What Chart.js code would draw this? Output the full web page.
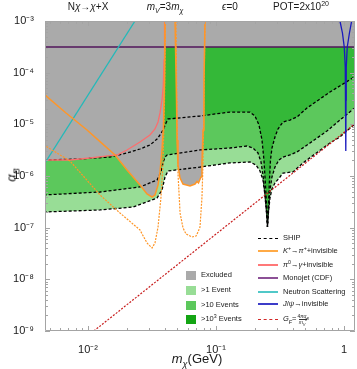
<!DOCTYPE html>
<html>
<head>
<meta charset="utf-8">
<script src="https://cdn.jsdelivr.net/npm/chart.js@4.4.1/dist/chart.umd.min.js"></script>
<style>
  html, body { margin:0; padding:0; background:#fff; }
  #wrap { position:relative; width:357px; height:369px; overflow:hidden; font-family:"Liberation Sans", Arial, sans-serif; color:#1a1a1a; }
  #c { position:absolute; left:0; top:0; }
  .t { position:absolute; white-space:nowrap; line-height:1; }
  .top { font-size:10px; top:2px; transform:translateX(-50%); }
  .leg { position:absolute; height:10px; display:flex; align-items:center; font-size:7.5px; white-space:nowrap; line-height:1; }
  .sw { width:10px; height:9px; margin-right:5px; flex:none; }
  .ln { width:20px; height:0; margin-right:5px; flex:none; }
  sub, sup { font-size:70%; line-height:0; }
  .frac { display:inline-flex; flex-direction:column; align-items:center; font-size:5px; vertical-align:middle; margin-left:1px; }
  .frac span + span { border-top:0.6px solid #333; }
</style>
</head>
<body>
<div id="wrap">
  <canvas id="c" width="357" height="369"></canvas>

  <div class="t top" style="left:88px">N<i>χ</i>→<i>χ</i>+X</div>
  <div class="t top" style="left:165px"><i>m<sub>V</sub></i>=3<i>m<sub>χ</sub></i></div>
  <div class="t top" style="left:230px"><i>ϵ</i>=0</div>
  <div class="t top" style="left:301px">POT=2x10<sup>20</sup></div>

  <div class="t" style="left:197px;top:352px;transform:translateX(-50%);font-size:13px"><i>m</i><sub><i>χ</i></sub>(GeV)</div>
  <div class="t" style="left:11px;top:175px;transform:translate(-50%,-50%) rotate(-90deg);font-size:13px"><i>α</i><sub><i>B</i></sub></div>

  <div class="leg" style="left:186px;top:270px"><span class="sw" style="background:rgb(170,170,170)"></span><span>Excluded</span></div>
  <div class="leg" style="left:186px;top:285px"><span class="sw" style="background:rgb(152,221,150)"></span><span>&gt;1 Event</span></div>
  <div class="leg" style="left:186px;top:300px"><span class="sw" style="background:rgb(92,200,92)"></span><span>&gt;10 Events</span></div>
  <div class="leg" style="left:186px;top:314px"><span class="sw" style="background:rgb(20,165,20)"></span><span>&gt;10<sup>3</sup> Events</span></div>

  <div class="leg" style="left:258px;top:233px"><span class="ln" style="border-top:1.5px dashed #000"></span><span>SHIP</span></div>
  <div class="leg" style="left:258px;top:246px"><span class="ln" style="border-top:2px solid rgb(255,170,70)"></span><span><i>K</i><sup>+</sup>→<i>π</i><sup>+</sup>+invisible</span></div>
  <div class="leg" style="left:258px;top:260px"><span class="ln" style="border-top:2px solid rgb(255,120,120)"></span><span><i>π</i><sup>0</sup>→<i>γ</i>+invisible</span></div>
  <div class="leg" style="left:258px;top:273px"><span class="ln" style="border-top:2px solid rgb(140,80,150)"></span><span>Monojet (CDF)</span></div>
  <div class="leg" style="left:258px;top:287px"><span class="ln" style="border-top:2px solid rgb(80,200,200)"></span><span>Neutron Scattering</span></div>
  <div class="leg" style="left:258px;top:299px"><span class="ln" style="border-top:2px solid rgb(60,60,200)"></span><span><i>J</i>/<i>ψ</i>→invisible</span></div>
  <div class="leg" style="left:258px;top:314px"><span class="ln" style="border-top:1.5px dashed rgb(210,40,40)"></span><span><i>G<sub>F</sub></i>=<span class="frac"><span>4<i>πα<sub>B</sub></i></span><span><i>m<sub>V</sub></i><sup>2</sup></span></span></span></div>
</div>

<script>
// ---------- axes ----------
const xMin = 0.00461, xMax = 1.22;
const yMin = 1e-9, yMax = 1e-3;
const xMajorTicks = [0.01, 0.1, 1];
const xTickLabels = ['10⁻²', '10⁻¹', '1'];
const yMajorTicks = [1e-9, 1e-8, 1e-7, 1e-6, 1e-5, 1e-4, 1e-3];
const yTickLabels = ['10⁻⁹', '10⁻⁸', '10⁻⁷', '10⁻⁶', '10⁻⁵', '10⁻⁴', '10⁻³'];

// ---------- SHIP sensitivity curves ----------
const shipLowMass  = [0.0045,0.01241,0.02247,0.0346,0.03786,0.03996,0.04217,0.075,0.1286,0.1844,0.2054,0.2207,0.2329,0.2414,0.248,0.2525,0.2571,0.2642,0.2738,0.289,0.3162,0.3338,0.3996,0.4783,0.5934,0.7775,0.9305,1.241];
const shipLowAlpha = [2.01e-7,2.20e-7,2.51e-7,3.75e-7,5.36e-7,9.57e-7,1.25e-6,1.49e-6,1.79e-6,1.87e-6,1.63e-6,1.25e-6,8.37e-7,4.29e-7,2.01e-7,1.03e-7,2.01e-7,3.75e-7,5.61e-7,7.32e-7,9.57e-7,1.14e-6,1.20e-6,1.79e-6,2.67e-6,4.35e-6,5.69e-6,1.06e-5];

const shipMidMass  = [0.0045,0.01241,0.02548,0.0346,0.03718,0.03855,0.03996,0.04142,0.075,0.1286,0.1747,0.1945,0.2129,0.2247,0.2329,0.2414,0.248,0.2525,0.2571,0.2642,0.2738,0.289,0.3105,0.3338,0.3786,0.4294,0.5428,0.7365,0.9305,1.241];
const shipMidAlpha = [4.29e-7,4.90e-7,6.13e-7,8.37e-7,1.20e-6,1.79e-6,2.33e-6,2.55e-6,3.19e-6,3.48e-6,3.81e-6,3.48e-6,2.79e-6,1.87e-6,1.05e-6,4.29e-7,2.01e-7,1.03e-7,2.01e-7,5.36e-7,9.57e-7,1.49e-6,2.04e-6,2.33e-6,2.55e-6,2.92e-6,4.35e-6,7.43e-6,1.21e-5,2.17e-5];

const shipTopMass  = [0.0045,0.00866,0.01485,0.02017,0.02548,0.0305,0.0346,0.03652,0.03855,0.04069,0.04217,0.075,0.1286,0.1844,0.2017,0.2168,0.2288,0.2371,0.2436,0.2494,0.2525,0.2562,0.2608,0.2665,0.2738,0.289,0.305,0.3338,0.3786,0.4294,0.514,0.7775,1.241];
const shipTopAlpha = [2.04e-6,2.13e-6,2.33e-6,2.79e-6,3.33e-6,3.98e-6,5.20e-6,6.22e-6,7.77e-6,1.06e-5,1.27e-5,1.45e-5,1.73e-5,1.73e-5,1.45e-5,9.71e-6,4.98e-6,2.04e-6,6.70e-7,2.20e-7,1.03e-7,2.20e-7,6.70e-7,2.04e-6,3.48e-6,5.69e-6,8.12e-6,1.11e-5,1.21e-5,1.39e-5,2.07e-5,4.22e-5,8.62e-5];

// ---------- existing constraints ----------
const pionMass  = [0.0045,0.00723,0.01037,0.01486,0.01685,0.02017,0.02547,0.03047,0.03336,0.03524,0.03652,0.03784,0.03877,0.03926,0.03962];
const pionAlpha = [2.04e-6,2.04e-6,2.23e-6,2.49e-6,2.55e-6,3.19e-6,4.55e-6,6.22e-6,8.13e-6,1.11e-5,1.66e-5,2.96e-5,5.77e-5,1.76e-4,1e-3];

const kaonLowMass  = [0.0045,0.00673,0.00982,0.01241,0.01626,0.02017,0.02547,0.0289,0.03162,0.03336,0.03524,0.03652,0.03784,0.03889,0.0396,0.03996];
const kaonLowAlpha = [3.9e-5,1.66e-5,7.77e-6,4.63e-6,2.55e-6,1.31e-6,6.70e-7,4.48e-7,3.92e-7,4.29e-7,6.70e-7,1.20e-6,3.19e-6,9.7e-6,7.21e-5,1e-3];

const kaonHighMass  = [0.04786,0.04914,0.04961,0.05046,0.05238,0.05524,0.06265,0.06856,0.07108,0.07297,0.07637,0.07773,0.07916,0.08059,0.08204];
const kaonHighAlpha = [1e-3,2.96e-5,4.98e-6,1.63e-6,9.14e-7,7.0e-7,6.41e-7,7.0e-7,7.83e-7,7.33e-7,9.57e-7,1.79e-6,7.77e-6,7.21e-5,1e-3];

const kaonProjLowMass  = [0.0045,0.00723,0.01241,0.01778,0.02547,0.0289,0.03162,0.03336,0.03524,0.03718,0.03855,0.0396,0.04032];
const kaonProjLowAlpha = [4.0e-6,1.95e-6,4.29e-7,1.92e-7,9.02e-8,5.05e-8,4.05e-8,5.05e-8,1.03e-7,3.92e-7,1.79e-6,2.96e-5,1e-3];

const kaonProjHighMass  = [0.0487,0.04961,0.05046,0.05238,0.05524,0.0583,0.06494,0.06982,0.07235,0.07499,0.07773,0.07916,0.08059,0.08204];
const kaonProjHighAlpha = [1e-3,1.21e-5,1.14e-6,1.92e-7,9.87e-8,7.55e-8,6.6e-8,6.9e-8,8.25e-8,1.03e-7,3.92e-7,1.79e-6,2.96e-5,1e-3];

const excludedMass  = [0.0045,0.00723,0.01037,0.01486,0.01626,0.02017,0.02547,0.0289,0.03162,0.03336,0.03524,0.03652,0.03784,0.03889,0.0396,0.03996];
const excludedAlpha = [2.04e-6,2.04e-6,2.23e-6,2.49e-6,2.55e-6,1.31e-6,6.70e-7,4.48e-7,3.92e-7,4.29e-7,6.70e-7,1.20e-6,3.19e-6,9.7e-6,7.21e-5,1e-3];

const monojetMass  = [0.0045, 1.25];
const monojetAlpha = [3.14e-4, 3.14e-4];

const neutronMass  = [0.00461, 0.02329];
const neutronAlpha = [1.79e-6, 1e-3];

const jpsiMass  = [0.9306,0.9734,1.0054,1.0238,1.033,1.0347,1.0385,1.0423,1.0612,1.104,1.1487];
const jpsiAlpha = [1e-3,5.86e-4,3.14e-4,1.29e-4,2.96e-5,3.05e-6,2.96e-5,1.29e-4,3.14e-4,5.86e-4,1e-3];

const gfMass  = [0.0111, 1.241];
const gfAlpha = [1e-9, 1.06e-5];

// ---------- colours ----------
const GRAY = 'rgb(170,170,170)';
const LIGHT = 'rgb(152,221,150)';
const MID = 'rgb(92,200,92)';
const DARK = 'rgb(52,184,56)';
const ORANGE = 'rgb(255,150,40)';
const PINK = 'rgb(252,110,110)';
const PURPLE = 'rgb(80,20,90)';
const TEAL = 'rgb(35,185,185)';
const BLUE = 'rgb(25,25,190)';
const RED = 'rgb(200,30,30)';

const pts = (xs, ys) => xs.map((x, i) => ({x, y: ys[i]}));
const ds = (label, xs, ys, o) => Object.assign({
  label, data: pts(xs, ys), pointRadius: 0, pointHoverRadius: 0,
  borderWidth: 1.2, tension: 0, fill: false, spanGaps: false
}, o);

function logTicks(min, max) {
  const out = [];
  for (let e = Math.floor(Math.log10(min)); e <= Math.ceil(Math.log10(max)); e++) {
    for (let k = 1; k <= 9; k++) {
      const v = k === 1 ? Number('1e' + e) : k * Math.pow(10, e);
      if (v >= min * 0.9999 && v <= max * 1.0001) out.push({value: v, major: k === 1});
    }
  }
  return out;
}

const framePlugin = {
  id: 'frame',
  afterDatasetsDraw(chart) {
    const {ctx, chartArea: a} = chart;
    const xs = chart.scales.x, ys = chart.scales.y;
    ctx.save();
    ctx.strokeStyle = '#a4a4a4';
    ctx.lineWidth = 1;
    ctx.beginPath();
    ctx.rect(a.left + 0.5, a.top + 0.5, a.width - 1, a.height - 1);
    ctx.stroke();
    ctx.beginPath();
    xs.ticks.forEach(t => {
      const p = Math.round(xs.getPixelForValue(t.value)) + 0.5;
      const L = t.major ? 5 : 3;
      ctx.moveTo(p, a.bottom); ctx.lineTo(p, a.bottom - L);
      ctx.moveTo(p, a.top); ctx.lineTo(p, a.top + L);
    });
    ys.ticks.forEach(t => {
      const p = Math.round(ys.getPixelForValue(t.value)) + 0.5;
      const L = t.major ? 5 : 3;
      ctx.moveTo(a.left, p); ctx.lineTo(a.left + L, p);
      ctx.moveTo(a.right, p); ctx.lineTo(a.right - L, p);
    });
    ctx.stroke();
    ctx.restore();
  }
};

Chart.defaults.font.family = '"Liberation Sans", Arial, sans-serif';
Chart.defaults.color = '#1a1a1a';

const shipLine = {borderColor: '#000', borderDash: [3, 2], borderWidth: 1.3};

new Chart(document.getElementById('c'), {
  type: 'line',
  data: {
    datasets: [
      ds('SHIP >1 Event', shipLowMass, shipLowAlpha, Object.assign({fill: 'end', backgroundColor: LIGHT, order: 50}, shipLine)),
      ds('SHIP >10 Events', shipMidMass, shipMidAlpha, Object.assign({fill: 'end', backgroundColor: MID, order: 49}, shipLine)),
      ds('SHIP >10^3 Events', shipTopMass, shipTopAlpha, Object.assign({fill: 'end', backgroundColor: DARK, order: 48}, shipLine)),
      ds('Excluded', excludedMass, excludedAlpha, {borderColor: 'transparent', borderWidth: 0, fill: 'end', backgroundColor: GRAY, order: 41}),
      ds('Excluded (K+ window)', kaonHighMass, kaonHighAlpha, {borderColor: 'transparent', borderWidth: 0, fill: 'end', backgroundColor: GRAY, order: 41}),
      ds('Monojet (CDF)', monojetMass, monojetAlpha, {borderColor: PURPLE, borderWidth: 1.3, fill: 'end', backgroundColor: GRAY, order: 35}),
      ds('π0→γ+invisible', pionMass, pionAlpha, {borderColor: PINK, borderWidth: 1.3, order: 30}),
      ds('Neutron Scattering', neutronMass, neutronAlpha, {borderColor: TEAL, borderWidth: 1.3, order: 28}),
      ds('K+ projection low', kaonProjLowMass, kaonProjLowAlpha, {borderColor: ORANGE, borderDash: [2, 1.2], borderWidth: 1.2, order: 22}),
      ds('K+ projection high', kaonProjHighMass, kaonProjHighAlpha, {borderColor: ORANGE, borderDash: [2, 1.2], borderWidth: 1.2, order: 22}),
      ds('K+→π+ +invisible', kaonLowMass, kaonLowAlpha, {borderColor: ORANGE, borderWidth: 1.5, order: 20}),
      ds('K+→π+ +invisible (2)', kaonHighMass, kaonHighAlpha, {borderColor: ORANGE, borderWidth: 1.5, order: 20}),
      ds('G_F', gfMass, gfAlpha, {borderColor: RED, borderDash: [2, 1.5], borderWidth: 1.2, order: 15}),
      ds('J/ψ→invisible', jpsiMass, jpsiAlpha, {borderColor: BLUE, borderWidth: 1.3, order: 10})
    ]
  },
  options: {
    responsive: false,
    animation: false,
    devicePixelRatio: 1,
    events: [],
    layout: {padding: {left: 0, right: 2, top: 21, bottom: 0}},
    plugins: {
      legend: {display: false},
      tooltip: {enabled: false},
      filler: {drawTime: 'beforeDatasetsDraw', propagate: false}
    },
    scales: {
      x: {
        type: 'logarithmic', min: xMin, max: xMax,
        grid: {display: false}, border: {display: false},
        afterBuildTicks: s => { s.ticks = logTicks(xMin, xMax); },
        afterFit: s => { s.height = 38; },
        ticks: {
          autoSkip: false, maxRotation: 0, minRotation: 0, padding: 4,
          font: {size: 11}, color: '#1a1a1a',
          callback: v => { const i = xMajorTicks.indexOf(v); return i >= 0 ? xTickLabels[i] : ''; }
        }
      },
      y: {
        type: 'logarithmic', min: yMin, max: yMax,
        grid: {display: false}, border: {display: false},
        afterBuildTicks: s => { s.ticks = logTicks(yMin, yMax); },
        afterFit: s => { s.width = 45; },
        ticks: {
          autoSkip: false, padding: 3,
          font: {size: 11}, color: '#1a1a1a',
          callback: v => { const i = yMajorTicks.indexOf(v); return i >= 0 ? yTickLabels[i] : ''; }
        }
      }
    }
  },
  plugins: [framePlugin]
});
</script>
</body>
</html>
